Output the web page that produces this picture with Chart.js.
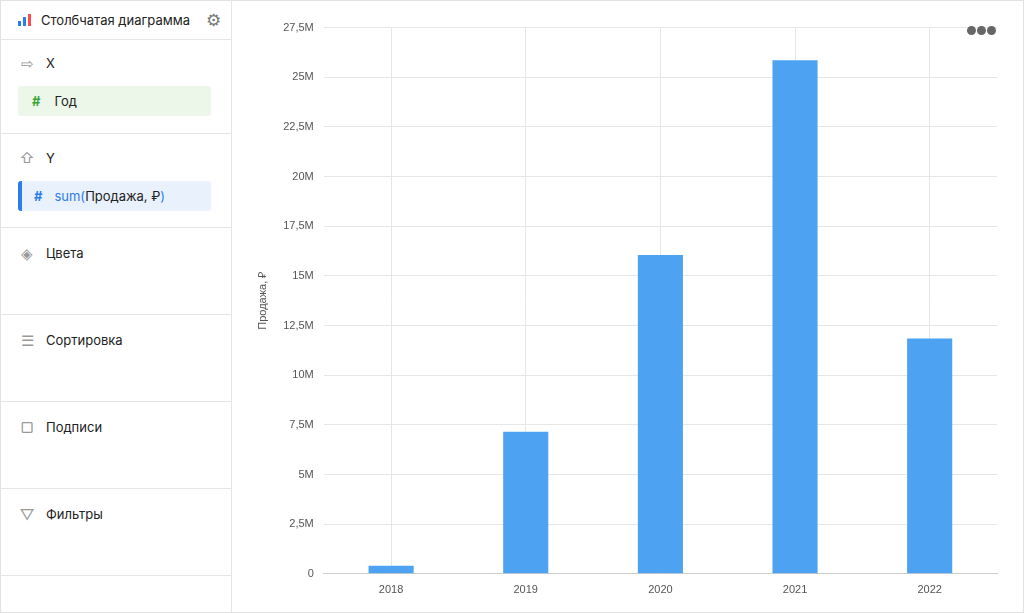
<!DOCTYPE html>
<html>
<head>
<meta charset="utf-8">
<script src="https://cdn.jsdelivr.net/npm/chart.js@4"></script>
<style>
  html, body { margin: 0; padding: 0; }
  body { width: 1024px; height: 613px; overflow: hidden; font-family: "Inter", "Noto Sans", sans-serif; background: #fff; position: relative; }
  .frame { position: absolute; left: 0; top: 0; width: 1022px; height: 611px; border: 1px solid #e2e2e2; }
  .side { position: absolute; left: 0; top: 0; width: 231px; height: 613px; border-right: 1px solid #e5e5e5; font-size: 13px; color: #222; }
  .sec { border-bottom: 1px solid #e5e5e5; position: relative; }
  .row { display: flex; align-items: center; padding-left: 18px; height: 40px; }
  .ic { width: 18px; margin-right: 10px; color: #999; font-size: 15px; text-align: center; }
  .pill { margin: 0 20px 0 18px; height: 30px; border-radius: 3px; display: flex; align-items: center; padding-left: 14px; }
  .chartbox { position: absolute; left: 240px; top: 11px; width: 770px; height: 596px; }
  .dots { position: absolute; right: 28px; top: 26px; color: #666; font-size: 12px; letter-spacing: -1px; line-height: 10px; }
</style>
</head>
<body>
<div class="frame"></div>
<div class="side">
  <div class="sec" style="height:39px">
    <div class="row" style="height:39px">
      <span style="display:inline-flex;align-items:flex-end;gap:2px;height:12px;margin-right:10px">
        <i style="width:3px;height:5px;background:#2b7de9"></i><i style="width:3px;height:9px;background:#2b7de9"></i><i style="width:3px;height:12px;background:#ff4b4b"></i>
      </span>
      Столбчатая диаграмма
      <span style="margin-left:16px;color:#777;font-size:17px">⚙</span>
    </div>
  </div>
  <div class="sec" style="height:93px">
    <div class="row" style="height:46px"><span class="ic">⇨</span>X</div>
    <div class="pill" style="background:#ecf7ea"><span style="color:#3aa63a;font-weight:bold;margin-right:14px">#</span>Год</div>
  </div>
  <div class="sec" style="height:93px">
    <div class="row" style="height:47px"><span class="ic">⇧</span>Y</div>
    <div class="pill" style="background:#e9f1fd;border-left:4px solid #2b7de9;margin-left:18px;padding-left:12px"><span style="color:#2b7de9;font-weight:bold;margin-right:12px">#</span><span style="color:#2b7de9">sum(</span>Продажа, ₽<span style="color:#2b7de9">)</span></div>
  </div>
  <div class="sec" style="height:86px"><div class="row" style="height:50px"><span class="ic">◈</span>Цвета</div></div>
  <div class="sec" style="height:86px"><div class="row" style="height:50px"><span class="ic">☰</span>Сортировка</div></div>
  <div class="sec" style="height:86px"><div class="row" style="height:50px"><span class="ic">▢</span>Подписи</div></div>
  <div class="sec" style="height:86px"><div class="row" style="height:50px"><span class="ic">▽</span>Фильтры</div></div>
</div>
<div class="chartbox"><canvas id="c"></canvas></div>
<div class="dots">●●●</div>
<script>
const years = ['2018', '2019', '2020', '2021', '2022'];
const sales = [400000, 7150000, 16050000, 25850000, 11850000];
const yTicks = [0, 2.5e6, 5e6, 7.5e6, 10e6, 12.5e6, 15e6, 17.5e6, 20e6, 22.5e6, 25e6, 27.5e6];

function fmt(v) {
  if (v === 0) return '0';
  return String(v / 1e6).replace('.', ',') + 'M';
}

new Chart(document.getElementById('c'), {
  type: 'bar',
  data: {
    labels: years,
    datasets: [{
      label: 'Продажа, ₽',
      data: sales,
      backgroundColor: '#4da2f1',
      barPercentage: 0.335,
      categoryPercentage: 1
    }]
  },
  options: {
    responsive: true,
    maintainAspectRatio: false,
    animation: false,
    layout: { padding: { top: 14, right: 13, left: 12, bottom: 0 } },
    plugins: { legend: { display: false }, tooltip: { enabled: false } },
    scales: {
      x: {
        grid: { color: '#e6e6e6', offset: false, drawTicks: false },
        border: { color: '#cccccc' },
        ticks: { color: '#555', font: { size: 11 }, padding: 10 }
      },
      y: {
        min: 0,
        max: 27.5e6,
        afterBuildTicks: axis => { axis.ticks = yTicks.map(v => ({ value: v })); },
        grid: { color: '#e6e6e6', drawTicks: false },
        border: { display: false },
        ticks: { color: '#555', font: { size: 11 }, padding: 10, callback: v => fmt(v) },
        title: { display: true, text: 'Продажа, ₽', color: '#555', font: { size: 11 } }
      }
    }
  }
});
</script>
</body>
</html>
